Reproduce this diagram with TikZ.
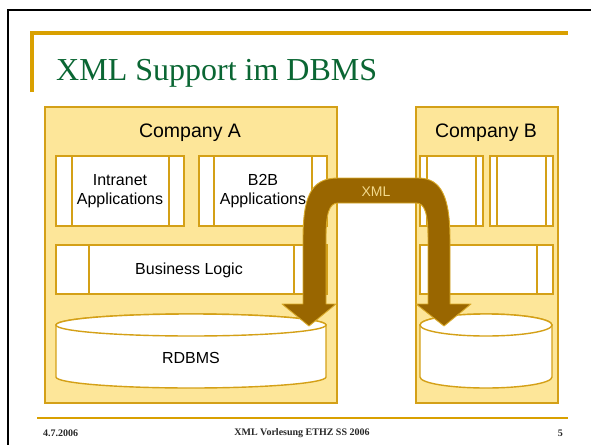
\documentclass[tikz,border=0pt]{standalone}
\usepackage{fontspec}
\setmainfont{Liberation Sans}
\newfontfamily\titlefont{Liberation Serif}
\definecolor{compfill}{HTML}{FDE699}
\definecolor{goldline}{HTML}{D4A017}
\definecolor{bracketgold}{HTML}{D9A000}
\definecolor{arrowfill}{HTML}{996600}
\definecolor{arrowedge}{HTML}{D9AA2A}
\definecolor{xmltext}{HTML}{F2D98C}
\definecolor{titlegreen}{HTML}{0A6633}
\tikzset{
  company/.style={draw=goldline, fill=compfill, line width=1.5pt},
  appbox/.style={draw=goldline, fill=white, line width=1.4pt},
  inner/.style={draw=goldline, line width=1.4pt},
  db/.style={draw=goldline, fill=white, line width=1.4pt},
  blockarrow/.style={draw=arrowedge, fill=arrowfill, line width=0.9pt, line join=round},
  lbl/.style={inner sep=0pt, align=center, text=black},
  foot/.style={inner sep=0pt, font=\titlefont\bfseries\fontsize{10}{12}\selectfont, text=black!85}
}
\begin{document}
\begin{tikzpicture}[x=1pt,y=-1pt]
\useasboundingbox (0,0) rectangle (591,444);
% slide frame
\draw[black, line width=2.5pt] (8,460) -- (8,10) -- (600,10);
% title bracket
\draw[bracketgold, line width=4pt] (32,92) -- (32,33) -- (568,33);
\node[anchor=base west, inner sep=0pt, text=titlegreen, font=\titlefont\fontsize{32}{36}\selectfont] (title) at (56,80) {XML Support im DBMS};
% Company A
\draw[company] (45,107) rectangle (337,403);
\node[lbl, font=\fontsize{19.5}{22}\selectfont] (compA) at (190,133) {Company A};
\draw[appbox] (56,156) rectangle (184,226);
\draw[inner] (72,156) -- (72,226) (169,156) -- (169,226);
\node[lbl, font=\fontsize{16}{18.5}\selectfont] (intranet) at (120,191) {Intranet\\Applications};
\draw[appbox] (199,156) rectangle (327,226);
\draw[inner] (214,156) -- (214,226) (312,156) -- (312,226);
\node[lbl, font=\fontsize{16}{18.5}\selectfont] (b2b) at (263,191) {B2B\\Applications};
\draw[appbox] (56,245) rectangle (327,294);
\draw[inner] (89,245) -- (89,294) (294,245) -- (294,294);
\node[lbl, font=\fontsize{16}{18.5}\selectfont] (logic) at (189,270) {Business Logic};
% RDBMS cylinder
\filldraw[db] (56,325) -- (56,377) arc[start angle=180, end angle=0, x radius=135, y radius=11] -- (326,325) arc[start angle=0, end angle=-180, x radius=135, y radius=11] -- cycle;
\draw[db] (191,325) ellipse[x radius=135, y radius=11];
\node[lbl, font=\fontsize{16}{18.5}\selectfont] (rdbms) at (191,358) {RDBMS};
% Company B
\draw[company] (416,107) rectangle (558,403);
\node[lbl, font=\fontsize{19.5}{22}\selectfont] (compB) at (486,133) {Company B};
\draw[appbox] (420,156) rectangle (483,226);
\draw[inner] (427,156) -- (427,226) (476,156) -- (476,226);
\draw[appbox] (490,156) rectangle (553,226);
\draw[inner] (497,156) -- (497,226) (546,156) -- (546,226);
\draw[appbox] (420,245) rectangle (553,294);
\draw[inner] (537,245) -- (537,294);
\filldraw[db] (420,325) -- (420,377) arc[start angle=180, end angle=0, x radius=66, y radius=11] -- (552,325) arc[start angle=0, end angle=-180, x radius=66, y radius=11] -- cycle;
\draw[db] (486,325) ellipse[x radius=66, y radius=11];
% XML U-turn block arrow
\draw[blockarrow] (282,304) -- (303,304) -- (303,240)
  .. controls (303,198) and (310,178) .. (338,178) -- (418,178)
  .. controls (442,178) and (450,198) .. (450,240) -- (450,304) -- (471,304) -- (444,326) -- (416,304) -- (428,304) -- (428,238)
  .. controls (428,214) and (425,203) .. (416,203) -- (338,203)
  .. controls (329,203) and (326,214) .. (326,238) -- (326,304) -- (336,304) -- (309,326) -- cycle;
\node[inner sep=0pt, text=xmltext, font=\fontsize{14}{16}\selectfont] (xml) at (376,192) {XML};
% footer
\draw[bracketgold, line width=2.2pt] (37,418) -- (568,418);
\node[foot, anchor=west] (date) at (43,433) {4.7.2006};
\node[foot] (course) at (302,433) {XML Vorlesung ETHZ SS 2006};
\node[foot, anchor=east] (page) at (563,433) {5};
\end{tikzpicture}
\end{document}
